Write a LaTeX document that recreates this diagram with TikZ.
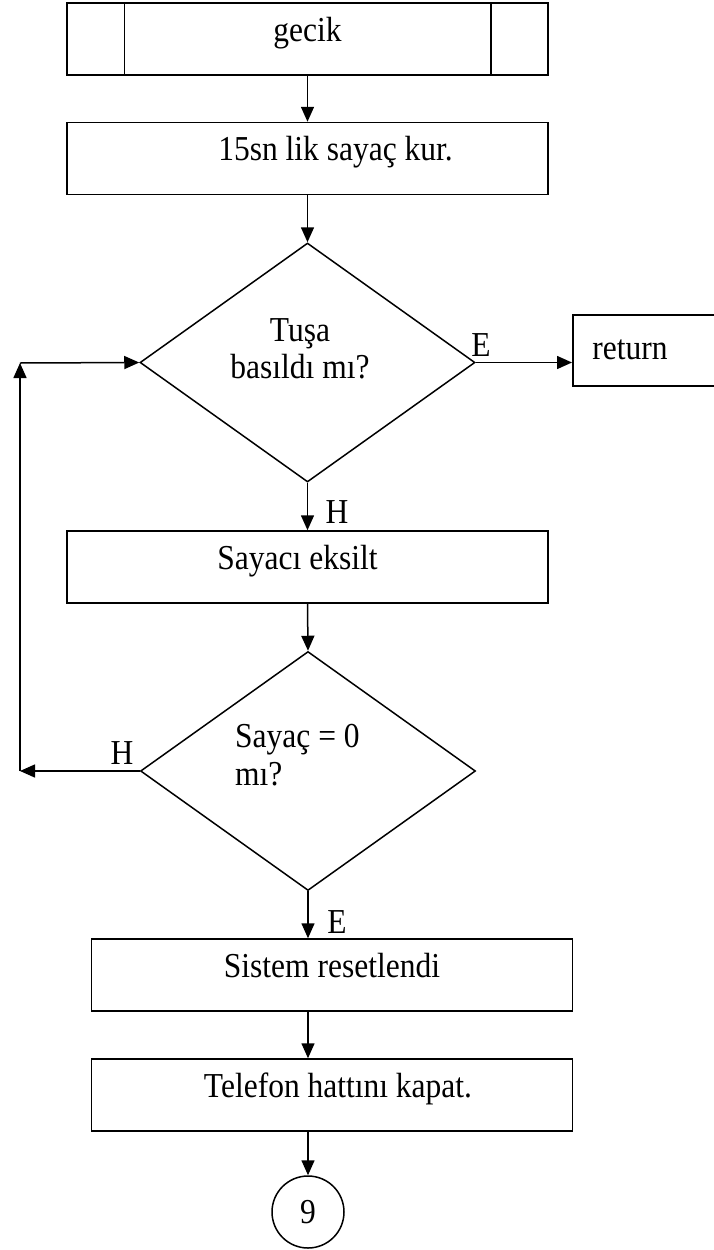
\documentclass[tikz,border=0pt]{standalone}
\usepackage{fontspec}
\setmainfont{Liberation Serif}[FakeStretch=0.9]
\usetikzlibrary{shapes.geometric,arrows.meta}
\begin{document}
\begin{tikzpicture}[x=1pt,y=-1pt,
  every node/.style={font=\fontsize{35}{37.5}\selectfont},
  box/.style={draw,line width=1.5pt,minimum width=481pt,minimum height=72pt,inner sep=0pt,text height=0.69em,text depth=0.25em},
  dec/.style={draw,diamond,line width=1.5pt,minimum width=335pt,minimum height=239pt,inner sep=0pt},
  arr/.style={line width=1.5pt,-{Triangle[length=15pt,width=13pt]}},
  lbl/.style={inner sep=0pt}]
\useasboundingbox (0,0) rectangle (713,1250);

\node[box] (gecik) at (307.5,39) {gecik};
\draw[line width=1.5pt] ([xshift=58pt]gecik.north west) -- ([xshift=58pt]gecik.south west);
\draw[line width=1.5pt] ([xshift=-58pt]gecik.north east) -- ([xshift=-58pt]gecik.south east);
\node[box] (kur) at (307.5,158.5) {\hspace*{56pt}15sn lik sayaç kur.};
\node[dec] (d1) at (307.5,362.5) {};
\node[lbl,align=center] (t1) at (300,349) {Tuşa\\basıldı mı?};
\node[draw,line width=1.5pt,minimum width=220pt,minimum height=71pt,inner sep=0pt,anchor=west] (ret) at (572,350.5) {};
\node[lbl] (rett) at (630,350) {return};
\node[lbl] (E1) at (481,345) {E};
\node[lbl] (H1) at (337,512) {H};
\node[box] (eks) at (307.5,567) {\hspace*{-20pt}Sayacı eksilt};
\node[dec] (d2) at (308,771) {};
\node[lbl,align=left,anchor=west] (t2) at (235,755) {Sayaç = 0\\mı?};
\node[lbl] (H2) at (122,753) {H};
\node[lbl] (E2) at (337,922) {E};
\node[box] (sis) at (332,975) {Sistem resetlendi};
\node[box] (tel) at (332,1095) {\hspace*{12pt}Telefon hattını kapat.};
\node[draw,circle,line width=1.5pt,minimum size=72pt,inner sep=0pt] (c9) at (308,1212) {9};

\coordinate (c1) at (20,771);
\coordinate (c2) at (20,363);

\draw[arr] (gecik.south) -- (kur.north);
\draw[arr] (kur.south) -- (d1.north);
\draw[arr] (d1.east) -- (d1.east -| ret.west);
\draw[arr] (d1.south) -- (eks.north);
\draw[arr] (eks.south) -- (d2.north);
\draw[arr] (d2.west) -- (c1);
\draw[arr] (c1) -- (c2);
\draw[arr] (c2) -- (d1.west);
\draw[arr] (d2.south) -- (d2.south |- sis.north);
\draw[arr] (sis.south -| d2.south) -- (tel.north -| d2.south);
\draw[arr] (tel.south -| d2.south) -- (c9.north);
\end{tikzpicture}
\end{document}
